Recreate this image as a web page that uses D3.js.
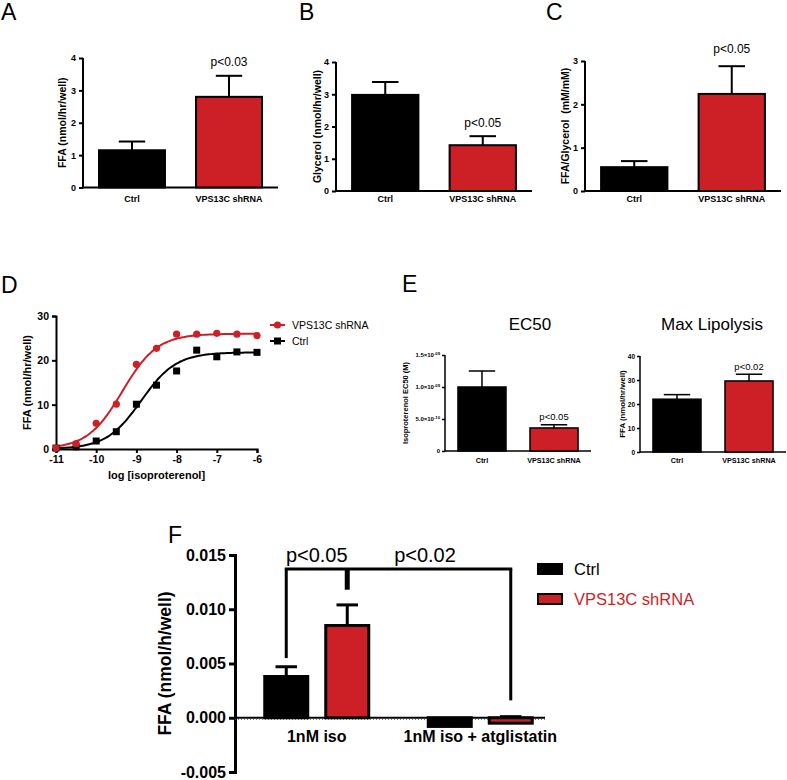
<!DOCTYPE html>
<html><head><meta charset="utf-8">
<script src="https://cdn.jsdelivr.net/npm/d3@7"></script>
<style>body{margin:0;background:#fff}svg{display:block}text{font-family:"Liberation Sans",Arial,Helvetica,sans-serif}</style>
</head><body><svg id="c" width="787" height="780"></svg>
<script>
// ---------- DATA ----------
const groups = ["Ctrl", "VPS13C shRNA"];
// Panel A
const ffaVals = [1.15, 2.80];
const ffaErr = [0.27, 0.65];
// Panel B
const glycerolVals = [2.98, 1.42];
const glycerolErr = [0.40, 0.28];
// Panel C
const ratioVals = [0.55, 2.24];
const ratioErr = [0.14, 0.64];
const pLabelsABC = ["p<0.03", "p<0.05", "p<0.05"];
// Panel D
const doseX = [-11, -10.5, -10, -9.5, -9, -8.5, -8, -7.5, -7, -6.5, -6];
const doseVPS = [0.2, 1.2, 5.8, 10.1, 19.1, 22.7, 25.9, 25.9, 26.1, 25.9, 25.6];
const doseCtrl = [0.2, 0.5, 1.8, 3.9, 10.1, 14.4, 17.6, 22.3, 20.8, 21.9, 21.8];
const doseXTicks = [-11, -10, -9, -8, -7, -6];
const doseYTicks = [0, 10, 20, 30];
// fitted sigmoid parameters [VPS13C shRNA, Ctrl]
const fitBottom = [0.0, 0.0];
const fitTop = [26.0, 21.8];
const fitLogEC50 = [-9.35, -8.88];
const fitHill = [1.0, 1.0];
// Panel E
const ec50Vals = [1.0e-9, 0.36e-9];
const ec50Err = [0.25e-9, 0.05e-9];
const ec50Ticks = [0, 5e-10, 1e-9, 1.5e-9];
const ec50TickMant = ["0", "5.0", "1.0", "1.5"];
const ec50TickExp = ["", "-10", "-09", "-09"];
const maxLipVals = [22.0, 29.6];
const maxLipErr = [1.9, 2.8];
// Panel F
const fCats = ["1nM iso", "1nM iso + atglistatin"];
const fCtrl = [0.0038, -0.0008];
const fCtrlErr = [0.0009, 0];
const fVPS = [0.0085, -0.0005];
const fVPSErr = [0.0019, 0.0006];
const fTicks = [-0.005, 0, 0.005, 0.010, 0.015];
// bracket: top level, left foot, right foot, middle foot
const fBracket = [0.0137, 0.0055, 0.0016, 0.0118];
const fPLabels = ["p<0.05", "p<0.02"];

// ---------- DRAW ----------
const svg = d3.select("#c");
const RED = "#cc1f26";

function styleAxis(ag, fs, sw) {
  ag.selectAll("text").style("font-size", fs + "px").style("font-weight", "bold").attr("fill", "#000");
  ag.selectAll("line,path").attr("stroke", "#000").attr("stroke-width", sw);
}

function barPanel(cfg) {
  const g = svg.append("g");
  const x = d3.scaleBand().domain(groups).range(cfg.xr).paddingInner(cfg.pi).paddingOuter(cfg.po);
  const y = d3.scaleLinear().domain(cfg.yd).range(cfg.yr);
  const ya = d3.axisLeft(y).tickValues(cfg.ticks).tickSizeOuter(0).tickSize(cfg.ts).tickPadding(cfg.tp)
    .tickFormat(cfg.fmt || d3.format("d"));
  const yg = g.append("g").attr("transform", `translate(${cfg.xr[0]},0)`).call(ya);
  yg.select(".domain").remove();
  styleAxis(yg, cfg.tickFs, cfg.sw);
  g.append("line").attr("x1", cfg.xr[0]).attr("x2", cfg.xr[0]).attr("y1", cfg.yr[0] + cfg.sw / 2).attr("y2", cfg.yr[1])
    .attr("stroke", "#000").attr("stroke-width", cfg.sw);
  if (cfg.superTicks) {
    yg.selectAll(".tick text").each(function (d, i) {
      const t = d3.select(this); t.text(cfg.superTicks[0][i]);
      if (cfg.superTicks[1][i]) {
        t.append("tspan").text("×10");
        t.append("tspan").attr("dy", -2.5).style("font-size", (cfg.tickFs * 0.7) + "px").text(cfg.superTicks[1][i]);
      }
    });
  }
  // x axis
  g.append("line").attr("x1", cfg.xr[0]).attr("x2", cfg.xr[1]).attr("y1", y(0)).attr("y2", y(0))
    .attr("stroke", "#000").attr("stroke-width", cfg.sw);
  // error bars
  const bw = x.bandwidth();
  groups.forEach((k, i) => {
    const cx = x(k) + bw / 2, v = cfg.vals[i], e = cfg.errs[i];
    g.append("line").attr("x1", cx).attr("x2", cx).attr("y1", y(v)).attr("y2", y(v + e))
      .attr("stroke", "#000").attr("stroke-width", cfg.sw);
    g.append("line").attr("x1", cx - bw * cfg.cap / 2).attr("x2", cx + bw * cfg.cap / 2).attr("y1", y(v + e)).attr("y2", y(v + e))
      .attr("stroke", "#000").attr("stroke-width", cfg.sw);
  });
  g.selectAll("rect.bar").data(cfg.vals).join("rect").attr("class", "bar")
    .attr("x", (d, i) => x(groups[i])).attr("width", bw)
    .attr("y", d => y(d)).attr("height", d => y(0) - y(d))
    .attr("fill", (d, i) => i === 0 ? "#000" : RED)
    .attr("stroke", "#000").attr("stroke-width", cfg.sw);
  // x labels
  groups.forEach((k) => {
    g.append("text").attr("x", x(k) + bw / 2).attr("y", cfg.xlabY).attr("text-anchor", "middle")
      .style("font-size", cfg.xlabFs + "px").style("font-weight", "bold").text(k);
  });
  // y title
  const yc = (cfg.yr[0] + cfg.yr[1]) / 2;
  g.append("text").attr("transform", `translate(${cfg.titleX},${yc}) rotate(-90)`)
    .attr("text-anchor", "middle").attr("dominant-baseline", "central")
    .style("font-size", cfg.titleFs + "px").style("font-weight", "bold").style("white-space", "pre").text(cfg.title);
  // p label
  const k = groups[1];
  g.append("text").attr("x", x(k) + bw / 2).attr("y", y(cfg.vals[1] + cfg.errs[1]) - cfg.pOff)
    .attr("text-anchor", "middle").style("font-size", cfg.pFs + "px").text(cfg.p);
}

function letter(t, x, y, fs) {
  svg.append("text").attr("x", x).attr("y", y).style("font-size", fs + "px").text(t);
}

letter("A", 1, 20, 23); letter("B", 299, 20, 23); letter("C", 546, 20, 23);
letter("D", 1, 293, 23); letter("E", 402, 292, 23); letter("F", 168, 543, 23);

const abcCommon = { pi: 0.32, po: 0.165, ts: 4, tp: 3, tickFs: 9, sw: 2, cap: 0.4, xlabY: 202, xlabFs: 9, titleFs: 10.5, pFs: 12 };
barPanel(Object.assign({}, abcCommon, { xr: [83, 278], yd: [0, 4], yr: [187.5, 58], ticks: [0, 1, 2, 3, 4],
  vals: ffaVals, errs: ffaErr, titleX: 62, title: "FFA (nmol/hr/well)", p: pLabelsABC[0], pOff: 10 }));
barPanel(Object.assign({}, abcCommon, { xr: [336, 532], yd: [0, 4], yr: [191, 62], ticks: [0, 1, 2, 3, 4],
  vals: glycerolVals, errs: glycerolErr, titleX: 317, title: "Glycerol (nmol/hr/well)", p: pLabelsABC[1], pOff: 9 }));
barPanel(Object.assign({}, abcCommon, { xr: [585, 781], yd: [0, 3], yr: [191, 61], ticks: [0, 1, 2, 3],
  vals: ratioVals, errs: ratioErr, titleX: 565, title: "FFA/Glycerol  (mM/mM)", p: pLabelsABC[2], pOff: 13 }));

// Panel E
const eCommon = { pi: 0.333, po: 0.18, ts: 3, tp: 2, sw: 1.5, cap: 0.55, xlabY: 463, xlabFs: 7.2, pFs: 9.5 };
barPanel(Object.assign({}, eCommon, { xr: [445, 591], yd: [0, 1.5e-9], yr: [451, 355], ticks: ec50Ticks, tickFs: 6,
  superTicks: [ec50TickMant, ec50TickExp], vals: ec50Vals, errs: ec50Err, titleX: 405, titleFs: 7.5,
  title: "Isoproterenol EC50 (M)", p: "p<0.05", pOff: 5 }));
barPanel(Object.assign({}, eCommon, { xr: [640, 786], yd: [0, 40], yr: [452, 356], ticks: [0, 10, 20, 30, 40], tickFs: 6.5,
  vals: maxLipVals, errs: maxLipErr, titleX: 622, titleFs: 7.8, title: "FFA (nmol/hr/well)", p: "p<0.02", pOff: 4 }));
svg.append("text").attr("x", 530).attr("y", 330).attr("text-anchor", "middle").style("font-size", "17px").text("EC50");
svg.append("text").attr("x", 712).attr("y", 330).attr("text-anchor", "middle").style("font-size", "17px").text("Max Lipolysis");

// Panel D
(function () {
  const g = svg.append("g");
  const x = d3.scaleLinear().domain([-11, -6]).range([56, 257]);
  const y = d3.scaleLinear().domain([0, 30]).range([449, 316]);
  const xg = g.append("g").attr("transform", `translate(0,${y(0)})`)
    .call(d3.axisBottom(x).tickValues(doseXTicks).tickSizeOuter(0).tickSize(4).tickPadding(3).tickFormat(d3.format("d")));
  styleAxis(xg, 10.5, 2);
  xg.selectAll(".tick text").text(d => String(d));
  const yg = g.append("g").attr("transform", `translate(${x(-11)},0)`)
    .call(d3.axisLeft(y).tickValues(doseYTicks).tickSizeOuter(0).tickSize(4).tickPadding(3));
  styleAxis(yg, 10.5, 2);
  g.append("text").attr("x", (x(-11) + x(-6)) / 2).attr("y", 479).attr("text-anchor", "middle")
    .style("font-size", "11px").style("font-weight", "bold").text("log [isoproterenol]");
  g.append("text").attr("transform", `translate(27,${(y(0) + y(30)) / 2}) rotate(-90)`).attr("text-anchor", "middle")
    .attr("dominant-baseline", "central").style("font-size", "11px").style("font-weight", "bold").text("FFA (nmol/hr/well)");
  const xs = d3.range(-11, -5.999, 0.05);
  const colors = [RED, "#000"];
  [0, 1].forEach(s => {
    const f = v => fitBottom[s] + (fitTop[s] - fitBottom[s]) / (1 + Math.pow(10, (fitLogEC50[s] - v) * fitHill[s]));
    g.append("path").datum(xs).attr("fill", "none").attr("stroke", colors[s]).attr("stroke-width", 2)
      .attr("d", d3.line().x(d => x(d)).y(d => y(f(d))).curve(d3.curveMonotoneX));
  });
  g.selectAll("rect.pt").data(doseCtrl).join("rect").attr("class", "pt")
    .attr("x", (d, i) => x(doseX[i]) - 3.5).attr("y", d => y(d) - 3.5).attr("width", 7).attr("height", 7).attr("fill", "#000");
  g.selectAll("circle.pt").data(doseVPS).join("circle").attr("class", "pt")
    .attr("cx", (d, i) => x(doseX[i])).attr("cy", d => y(d)).attr("r", 3.6).attr("fill", RED);
  // legend
  const lg = [["VPS13C shRNA", RED, 325], ["Ctrl", "#000", 341]];
  lg.forEach(([t, c, yy], i) => {
    g.append("line").attr("x1", 270).attr("x2", 285).attr("y1", yy).attr("y2", yy).attr("stroke", c).attr("stroke-width", 2);
    if (i === 0) g.append("circle").attr("cx", 277.5).attr("cy", yy).attr("r", 3.6).attr("fill", c);
    else g.append("rect").attr("x", 274).attr("y", yy - 3.5).attr("width", 7).attr("height", 7).attr("fill", c);
    g.append("text").attr("x", 292).attr("y", yy).attr("dominant-baseline", "central").style("font-size", "10.5px").text(t);
  });
})();

// Panel F
(function () {
  const g = svg.append("g");
  const x0 = d3.scaleBand().domain(fCats).range([235, 562]).padding(0);
  const x1 = d3.scaleBand().domain(groups).range([-52, 52]).paddingInner(0.295);
  const y = d3.scaleLinear().domain([-0.005, 0.015]).range([772, 555]);
  const yg = g.append("g").attr("transform", "translate(235,0)")
    .call(d3.axisLeft(y).tickValues(fTicks).tickSizeOuter(0).tickSize(6).tickPadding(3).tickFormat(d => d.toFixed(3)));
  styleAxis(yg, 16, 3);
  // zero line
  g.append("line").attr("x1", 235).attr("x2", 545).attr("y1", y(0)).attr("y2", y(0)).attr("stroke", "#000").attr("stroke-width", 2);
  g.append("line").attr("x1", 235).attr("x2", 545).attr("y1", y(0) + 1.5).attr("y2", y(0) + 1.5)
    .attr("stroke", "#555").attr("stroke-width", 1).attr("stroke-dasharray", "1,2");
  const bw = x1.bandwidth();
  const series = [[fCtrl, fCtrlErr, "#000"], [fVPS, fVPSErr, RED]];
  const cx = (c, k) => x0(c) + x0.bandwidth() / 2 + x1(k) + bw / 2;
  fCats.forEach((c, ci) => {
    series.forEach(([vals, errs, col], si) => {
      const k = groups[si], v = vals[ci], e = errs[ci], xc = cx(c, k);
      if (e > 0) {
        g.append("line").attr("x1", xc).attr("x2", xc).attr("y1", y(v)).attr("y2", y(v + e)).attr("stroke", "#000").attr("stroke-width", 3);
        g.append("line").attr("x1", xc - bw * 0.25).attr("x2", xc + bw * 0.25).attr("y1", y(v + e)).attr("y2", y(v + e)).attr("stroke", "#000").attr("stroke-width", 3);
      }
      g.append("rect").attr("x", xc - bw / 2).attr("width", bw)
        .attr("y", Math.min(y(v), y(0))).attr("height", Math.abs(y(0) - y(v)))
        .attr("fill", col).attr("stroke", "#000").attr("stroke-width", 3);
    });
    g.append("text").attr("x", x0(c) + x0.bandwidth() / 2).attr("y", 742).attr("text-anchor", "middle")
      .style("font-size", "16px").style("font-weight", "bold").text(c);
  });
  // bracket
  const bl = cx(fCats[0], groups[0]), br = cx(fCats[1], groups[1]), bm = cx(fCats[0], groups[1]);
  const ln = (xa, ya, xb, yb, w) => g.append("line").attr("x1", xa).attr("y1", ya).attr("x2", xb).attr("y2", yb)
    .attr("stroke", "#000").attr("stroke-width", w).attr("stroke-linecap", "butt");
  ln(bl - 1.5, y(fBracket[0]), br + 1.5, y(fBracket[0]), 3);
  ln(bl, y(fBracket[0]), bl, y(fBracket[1]), 3);
  ln(br, y(fBracket[0]), br, y(fBracket[2]), 3);
  ln(bm, y(fBracket[0]), bm, y(fBracket[3]), 5);
  g.append("text").attr("x", (bl + bm) / 2).attr("y", y(fBracket[0]) - 7).attr("text-anchor", "middle").style("font-size", "20px").text(fPLabels[0]);
  g.append("text").attr("x", (bm + br) / 2 - 4).attr("y", y(fBracket[0]) - 7).attr("text-anchor", "middle").style("font-size", "20px").text(fPLabels[1]);
  // y title
  g.append("text").attr("transform", `translate(165,${(y(-0.005) + y(0.015)) / 2}) rotate(-90)`).attr("text-anchor", "middle")
    .attr("dominant-baseline", "central").style("font-size", "17.5px").style("font-weight", "bold").text("FFA (nmol/h/well)");
  // legend
  const lg = [["Ctrl", "#000", "#000", 569], ["VPS13C shRNA", RED, RED, 599]];
  lg.forEach(([t, fill, tc, yy]) => {
    g.append("rect").attr("x", 538).attr("y", yy - 5).attr("width", 24).attr("height", 10).attr("fill", fill).attr("stroke", "#000").attr("stroke-width", 2);
    g.append("text").attr("x", 574).attr("y", yy).attr("dominant-baseline", "central").style("font-size", "16.5px").attr("fill", tc).text(t);
  });
})();
</script></body></html>
